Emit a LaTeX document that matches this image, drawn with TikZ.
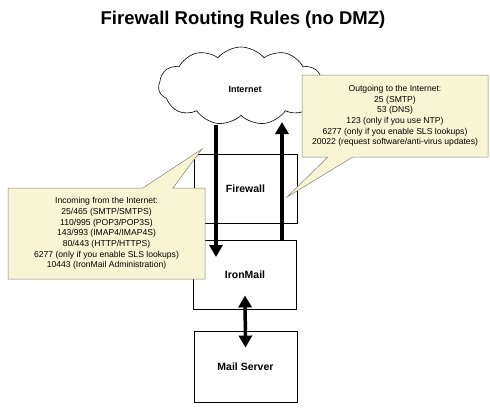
\documentclass[tikz,border=0pt]{standalone}
\usepackage{fontspec}
\setmainfont{Liberation Sans}
\usetikzlibrary{shapes.symbols,shapes.callouts,arrows.meta}
\definecolor{noteyellow}{RGB}{247,245,211}
\definecolor{noteborder}{RGB}{130,130,120}
\tikzset{
  box/.style={draw=black, line width=0.9pt, minimum width=103pt, minimum height=69pt, font=\fontsize{10.5}{12}\selectfont\bfseries},
  flow/.style={line width=3.5pt, -{Triangle[width=13pt,length=12pt]}},
  bothflow/.style={line width=3.5pt, {Triangle[width=13pt,length=12pt]}-{Triangle[width=13pt,length=12pt]}},
  note/.style={rectangle callout, draw=noteborder, line width=0.5pt, fill=noteyellow, align=center, inner sep=2pt,
    font=\fontsize{8.6}{10.7}\selectfont},
}
\begin{document}
\begin{tikzpicture}[x=1pt,y=-1pt]
\useasboundingbox (0,0) rectangle (490,407);
\node[font=\fontsize{18.5}{22}\selectfont\bfseries] (title) at (243,20) {Firewall Routing Rules (no DMZ)};
\node[cloud, draw, line width=0.6pt, cloud puffs=11, cloud puff arc=100, aspect=2.1, minimum width=165pt, minimum height=78pt, inner sep=0pt] (cloud) at (241,86) {};
\node[font=\fontsize{9}{11}\selectfont\bfseries] (netlabel) at (245,89) {Internet};
\node[box] (fw) at (245.5,188.5) {Firewall};
\node[box] (iron) at (245,274.5) {IronMail};
\node[box, minimum height=71pt] (mail) at (245.5,366.5) {Mail Server};
\coordinate (inA) at (216,125);
\coordinate (inB) at (216,257);
\coordinate (outA) at (iron.north -| 282,0);
\coordinate (outB) at (282,122);
\draw[flow] (inA) -- (inB);
\draw[flow] (outA) -- (outB);
\draw[bothflow] ([yshift=14pt]iron.south) -- ([yshift=-17pt]mail.north);
\coordinate (tipR) at (287,197);
\coordinate (tipL) at (202,149);
\node[note, minimum width=186pt, minimum height=82pt, callout absolute pointer={(tipR)}, callout pointer width=25pt] (outnote) at (395,116)
 {Outgoing to the Internet:\\25 (SMTP)\\53 (DNS)\\123 (only if you use NTP)\\6277 (only if you enable SLS lookups)\\20022 (request software/anti-virus updates)};
\node[note, minimum width=197pt, minimum height=91pt, callout absolute pointer={(tipL)}, callout pointer width=30pt] (innote) at (106.5,233.5)
 {Incoming from the Internet:\\25/465 (SMTP/SMTPS)\\110/995 (POP3/POP3S)\\143/993 (IMAP4/IMAP4S)\\80/443 (HTTP/HTTPS)\\6277 (only if you enable SLS lookups)\\10443 (IronMail Administration)};
\end{tikzpicture}
\end{document}
